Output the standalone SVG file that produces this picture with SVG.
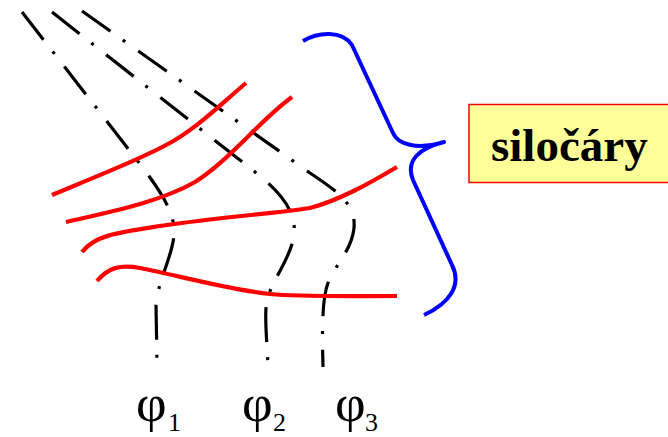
<svg xmlns="http://www.w3.org/2000/svg" width="668" height="437" viewBox="0 0 668 437">
<style>
.eq{fill:none;stroke:#000;stroke-width:3.2;stroke-dasharray:35 15 3 16;stroke-linecap:butt}
.fl{fill:none;stroke:#FF0000;stroke-width:4.2;stroke-linecap:butt}
.br{fill:none;stroke:#0000FF;stroke-width:4;stroke-linecap:butt;stroke-linejoin:round}
.phi{font-family:"Liberation Serif","Times New Roman",serif;font-size:53px;fill:#000}
.sub{font-family:"Liberation Serif","Times New Roman",serif;font-size:26px;fill:#000}
.lbl{font-family:"Liberation Serif","Times New Roman",serif;font-size:47px;font-weight:bold;fill:#000}
</style>
<rect width="668" height="437" fill="#fff"/>
<g id="connectors">
<g id="equipotentials">
<path id="eq1" class="eq" d="M22,12 L140,164 C158,188 176,212 174,235 C172,258 158,280 156,305 L157,363"/>
<path id="eq2" class="eq" d="M52,12 L255,172 C278,190 297,210 294,235 C291,258 272,280 267,300 C264,315 267,340 268,366"/>
<path id="eq3" class="eq" d="M82,11 L310,173 C340,193 356,205 354,228 C352,250 335,265 328,283 C322,298 322,330 323,367"/>
</g>
<g id="field-lines">
<path class="fl" d="M52,195 C100,175 150,155 175,140 C200,125 220,105 246,83"/>
<path class="fl" d="M66,222 C110,212 160,202 195,182 C230,160 260,120 292,97"/>
<path class="fl" d="M82,252 C95,235 120,232 160,226 C220,217 280,213 310,208 C340,200 370,183 397,167"/>
<path class="fl" d="M97,281 C108,268 120,264 140,268 C180,276 230,290 270,294 C300,297 350,296 397,296"/>
</g>
</g>
<g id="brace">
<path class="br" d="M303,41 C318,32 342,30 352,45 L393,133 C398,145 418,150 444,142 C420,148 405,160 413,180 L452,265 C462,285 450,303 424,315"/>
</g>
<g id="label">
<rect x="469" y="104.5" width="205" height="78" fill="#FFFF99" stroke="#FF0000" stroke-width="1.5"/>
<text class="lbl" x="491" y="161">siločáry</text>
</g>
<g id="phi1"><text class="phi" x="136" y="421">φ</text><text class="sub" x="168" y="431">1</text></g>
<g id="phi2"><text class="phi" x="242" y="421">φ</text><text class="sub" x="273" y="431">2</text></g>
<g id="phi3"><text class="phi" x="335" y="421">φ</text><text class="sub" x="365" y="431">3</text></g>
</svg>
